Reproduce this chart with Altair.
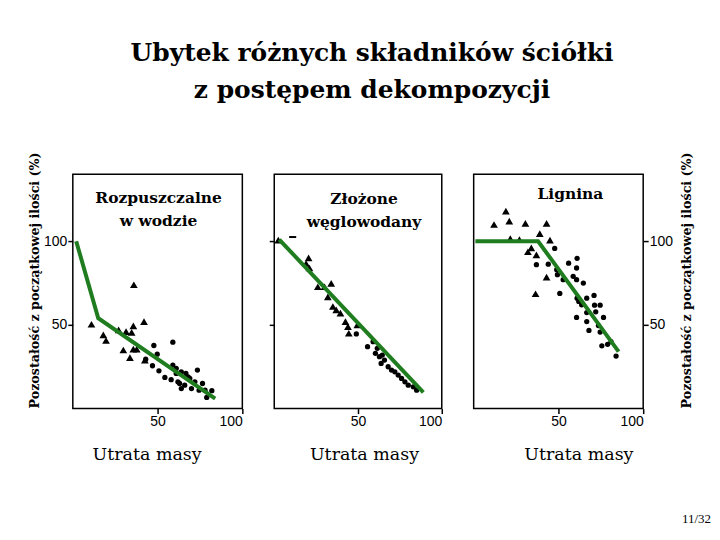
import altair as alt
import pandas as pd

# ---------------- data ----------------
# Panel 1: Rozpuszczalne w wodzie
p1_tri_x = [11, 18, 19.6, 27, 31.4, 34.7, 35.7, 36, 42, 29.8, 33.7, 35.7, 37.7, 42.5]
p1_tri_y = [50.4, 44, 40.7, 47, 46, 45.5, 49.4, 74, 52, 35, 30.5, 35.5, 35.5, 29]
p1_dot_x = [43, 47.8, 49.8, 47, 50.8, 54.3, 58, 59, 59, 61, 62, 64, 64, 66, 66.7, 69,
            70, 72, 73.5, 74.5, 76.5, 78, 79, 82, 61, 63, 68]
p1_dot_y = [29.5, 37.7, 32.5, 25.6, 22.6, 18.6, 17.3, 39.7, 26, 24, 16, 22, 12, 14, 21, 18,
            12, 16, 23, 11, 15, 11, 6.7, 10.7, 21, 15, 19]
p1_line_x = [2, 15, 84]
p1_line_y = [100, 54, 6]

# Panel 2: Złożone węglowodany
p2_tri_x = [2.4, 19, 20.5, 21, 26, 30, 34, 32, 35, 37, 39.5, 42.5, 44, 44.5, 49.6]
p2_tri_y = [100.6, 86.7, 90, 84, 72.8, 72.8, 74.8, 66.8, 61, 59, 57, 52, 49, 45, 50]
p2_dot_x = [49, 55.7, 59, 60.4, 61.5, 62.8, 63.8, 64.5, 65.8, 68, 70, 72, 74, 76, 78, 80, 83, 85]
p2_dot_y = [44.6, 37, 40, 33, 36, 31, 27, 32, 29, 25, 23, 22, 20, 18, 16, 14, 13, 11]
p2_dash_x = [11]
p2_dash_y = [102.5]
p2_line_x = [3, 89]
p2_line_y = [101, 9.7]

# Panel 3: Lignina
p3_tri_x = [12, 19, 21, 21.6, 27, 30.5, 32, 34, 36.5, 37, 39, 43, 43, 45]
p3_tri_y = [110, 118, 112, 101.6, 101, 110.7, 93.7, 96, 68.6, 91.8, 104.5, 110.7, 78.6, 100.6]
p3_dot_x = [37, 44, 47.8, 49, 49.4, 50.8, 52.8, 56, 58.7, 60.7, 60.7, 60.7, 61, 61, 62, 63.7,
            64.7, 66.7, 66.7, 66.7, 68, 71, 71.3, 72, 73.6, 74.6, 74.6, 75.6, 76.6, 79, 81, 84]
p3_dot_y = [86, 86.3, 95.7, 83, 80, 68.8, 77, 86.9, 79, 84, 77, 54.5, 89.8, 66, 64, 62,
            75, 66, 57.4, 52, 46.7, 67.6, 61.8, 57.8, 49.6, 61.8, 45.7, 37.5, 54.5, 38.4, 40, 31.4]
p3_line_x = [1, 38, 85.5]
p3_line_y = [100, 100, 34]

tick_values = [50, 100]
title_line1 = "Ubytek różnych składników ściółki"
title_line2 = "z postępem dekompozycji"
y_title = "Pozostałość z początkowej ilości (%)"
x_title = "Utrata masy"
label1 = ["Rozpuszczalne", "w wodzie"]
label2 = ["Złożone", "węglowodany"]
label3 = ["Lignina"]
page_no = "11/32"

# ---------------- styling ----------------
GREEN = "#1f7d1f"
SERIF = "DejaVu Serif, Liberation Serif, serif"
TIMES = "Liberation Serif, Times New Roman, serif"
SANS = "Liberation Sans, Arial, sans-serif"
W, H = 170, 235


def build_df(parts):
    rows = []
    for kind, xs, ys in parts:
        for i, (a, b) in enumerate(zip(xs, ys)):
            rows.append({"kind": kind, "x": a, "y": b, "order": i})
    return pd.DataFrame(rows)


def x_axis(title_x):
    return alt.Axis(values=tick_values, domain=False, grid=False, tickSize=5, tickWidth=1.5,
                    tickColor="black", labelFont=SANS, labelFontSize=14, labelColor="black",
                    labelPadding=1, title=x_title, titleFont=SERIF, titleFontSize=17.5,
                    titleFontWeight="normal", titleColor="black", titlePadding=17, titleX=title_x)


one_row = pd.DataFrame({"a": [0]})


def text_layer(txt, x, y, size, weight="bold", align="center", baseline="middle",
               line_height=None, font=SERIF):
    kw = dict(text=txt, font=font, fontSize=size, fontWeight=weight, align=align,
              baseline=baseline, color="black")
    if line_height is not None:
        kw["lineHeight"] = line_height
    return alt.Chart(one_row).mark_text(**kw).encode(x=alt.value(x), y=alt.value(y))


def panel(df, yaxis, title_x, extras, width=W):
    base = alt.Chart(df).encode(
        x=alt.X("x:Q", scale=alt.Scale(domain=[0, 100], nice=False, zero=False), axis=x_axis(title_x)),
        y=alt.Y("y:Q", scale=alt.Scale(domain=[0, 140], nice=False), axis=yaxis),
    )
    layers = [
        base.transform_filter(alt.datum.kind == "tri").mark_point(
            shape="triangle-up", filled=True, color="black", size=60, opacity=1),
        base.transform_filter(alt.datum.kind == "dot").mark_circle(
            color="black", size=28, opacity=1),
        base.transform_filter(alt.datum.kind == "dash").mark_point(
            shape="stroke", filled=False, color="black", size=50, strokeWidth=2, opacity=1),
        base.transform_filter(alt.datum.kind == "line").mark_line(
            color=GREEN, strokeWidth=4).encode(order="order:Q"),
    ] + extras
    return alt.layer(*layers).properties(width=width, height=H)


df1 = build_df([("tri", p1_tri_x, p1_tri_y), ("dot", p1_dot_x, p1_dot_y), ("line", p1_line_x, p1_line_y)])
df2 = build_df([("tri", p2_tri_x, p2_tri_y), ("dot", p2_dot_x, p2_dot_y),
                ("dash", p2_dash_x, p2_dash_y), ("line", p2_line_x, p2_line_y)])
df3 = build_df([("tri", p3_tri_x, p3_tri_y), ("dot", p3_dot_x, p3_dot_y), ("line", p3_line_x, p3_line_y)])

y_left = alt.Axis(values=tick_values, orient="left", domain=False, grid=False, tickSize=5, tickWidth=1.5,
                  tickColor="black", labelFont=SANS, labelFontSize=14, labelColor="black",
                  labelPadding=1, title=y_title, titleFont=SERIF, titleFontSize=12.7,
                  titleFontWeight="bold", titleColor="black", titlePadding=2, titleY=106)
y_mid = alt.Axis(values=tick_values, orient="left", domain=False, grid=False, labels=False,
                 tickSize=5, tickWidth=1.5, tickColor="black", title=None)
y_right = alt.Axis(values=tick_values, orient="right", domain=False, grid=False, tickSize=5, tickWidth=1.5,
                   tickColor="black", labelFont=SANS, labelFontSize=14, labelColor="black",
                   labelPadding=1, title=y_title, titleFont=SERIF, titleFontSize=12.7,
                   titleFontWeight="bold", titleColor="black", titlePadding=21, titleAngle=270,
                   titleY=106)

c1 = panel(df1, y_left, 74, [text_layer(label1, 86, 24, 15.5, line_height=23)])
c2 = panel(df2, y_mid, 90, [
    text_layer(label2, 90, 25, 15.5, line_height=23),
    text_layer(title_line1, 98, -114, 25, baseline="alphabetic"),
    text_layer(title_line2, 98, -76, 25, baseline="alphabetic"),
], width=168)
c3 = panel(df3, y_right, 105, [
    text_layer(label3, 97, 20, 15.5),
    text_layer(page_no, 238, 346, 13, weight="normal", align="right", font=TIMES),
])

chart = alt.hconcat(c1, c2, c3, spacing=32, bounds="flush").properties(
    padding={"left": 19, "top": 31, "right": 0, "bottom": 0},
    background="white",
).configure_view(stroke="black", strokeWidth=1.5)

chart.save("out.html", embed_options={"renderer": "svg", "actions": False})
